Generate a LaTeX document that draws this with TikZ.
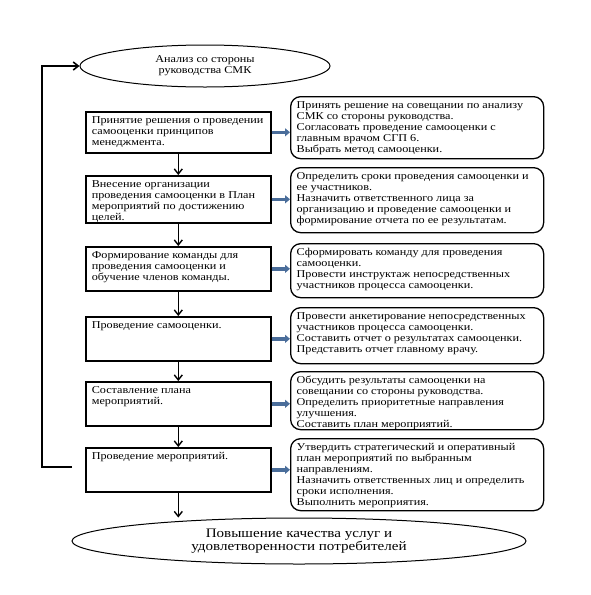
\documentclass[tikz,border=0pt]{standalone}
\usepackage{fontspec}
\setmainfont{Liberation Serif}[FakeStretch=1.16]
\usetikzlibrary{arrows.meta,positioning,calc,shapes.geometric}
\definecolor{linkblue}{HTML}{4A6D9A}
\newcommand{\cell}[3]{\parbox[c][#2pt][t]{#1pt}{\raggedright\leftskip=6pt\parindent=0pt\rule{0pt}{12pt}#3}}

\begin{document}
\begin{tikzpicture}[x=1pt,y=-1pt,
    every node/.style={font=\fontsize{10.5}{11}\selectfont},
    stepbox/.style={draw,line width=1.6pt,anchor=north west,inner sep=0pt},
    notebox/.style={draw,line width=1.3pt,rounded corners=10pt,anchor=north west,inner sep=0pt},
    oval/.style={draw,ellipse,line width=1pt,inner sep=0pt,align=center},
    flow/.style={line width=1.4pt,-{Straight Barb[length=5pt,width=8pt]}},
    link/.style={linkblue,line width=3.6pt,-{Triangle[length=5pt,width=8pt]}},
    back/.style={line width=1.6pt,-{Straight Barb[length=5pt,width=8pt]}}]
    \useasboundingbox (0,0) rectangle (590,595);
    % ovals
    \node[oval,minimum width=250pt,minimum height=42pt] (top) at (205,66) {Анализ со стороны\\руководства СМК};
    \node[oval,minimum width=454pt,minimum height=46pt,font=\fontsize{13}{13.5}\selectfont] (goal) at (299,541) {Повышение качества услуг и\\удовлетворенности потребителей};
    % steps
    \node[stepbox] (b1) at (85,111) {\cell{185}{41}{Принятие решения о проведении\\самооценки принципов\\менеджмента.}};
    \node[stepbox] (b2) at (85,175) {\cell{185}{47}{Внесение организации\\проведения самооценки в План\\мероприятий по достижению\\целей.}};
    \node[stepbox] (b3) at (85,246) {\cell{185}{44}{Формирование команды для\\проведения самооценки и\\обучение членов команды.}};
    \node[stepbox] (b4) at (85,316) {\cell{185}{44}{Проведение самооценки.}};
    \node[stepbox] (b5) at (85,381) {\cell{185}{44}{Составление плана\\мероприятий.}};
    \node[stepbox] (b6) at (85,447) {\cell{185}{44}{Проведение мероприятий.}};
    % notes
    \node[notebox] (r1) at (290,96) {\cell{253}{62}{Принять решение на совещании по анализу\\СМК со стороны руководства.\\Согласовать проведение самооценки с\\главным врачом СГП 6.\\Выбрать метод самооценки.}};
    \node[notebox] (r2) at (290,167) {\cell{253}{65}{Определить сроки проведения самооценки и\\ее участников.\\Назначить ответственного лица за\\организацию и проведение самооценки и\\формирование отчета по ее результатам.}};
    \node[notebox] (r3) at (290,243) {\cell{253}{54}{Сформировать команду для проведения\\самооценки.\\Провести инструктаж непосредственных\\участников процесса самооценки.}};
    \node[notebox] (r4) at (290,307) {\cell{253}{56}{Провести анкетирование непосредственных\\участников процесса самооценки.\\Составить отчет о результатах самооценки.\\Представить отчет главному врачу.}};
    \node[notebox] (r5) at (290,371) {\cell{253}{58}{Обсудить результаты самооценки на\\совещании со стороны руководства.\\Определить приоритетные направления\\улучшения.\\Составить план мероприятий.}};
    \node[notebox] (r6) at (290,438) {\cell{253}{72}{Утвердить стратегический и оперативный\\план мероприятий по выбранным\\направлениям.\\Назначить ответственных лиц и определить\\сроки исполнения.\\Выполнить мероприятия.}};
    % arrows
    \foreach \a/\b in {b1/b2,b2/b3,b3/b4,b4/b5,b5/b6,b6/goal} { \draw[flow] (\a.south) -- (\a.south |- \b.north); }
    \foreach \i in {1,...,6} { \draw[link] (b\i.east) -- (b\i.east -| r\i.west); }
    \coordinate (lp) at ([xshift=-13pt,yshift=3pt]b6.west);
    \draw[back] (lp) -- ++(-30,0) |- (top.west);
\end{tikzpicture}
\end{document}
